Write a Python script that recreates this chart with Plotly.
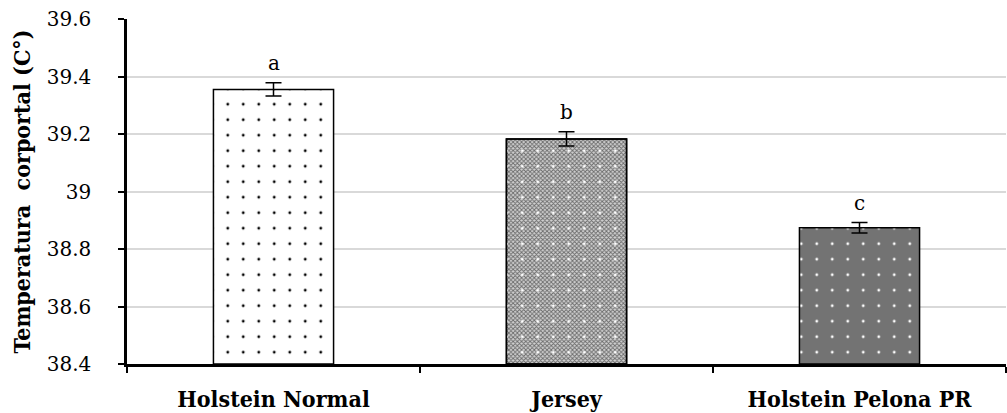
import plotly.graph_objects as go

categories = ["Holstein Normal", "Jersey", "Holstein Pelona PR"]
values = [39.355, 39.183, 38.874]
errors = [0.023, 0.025, 0.018]
letters = ["a", "b", "c"]
y_ticks = [38.4, 38.6, 38.8, 39.0, 39.2, 39.4, 39.6]
y_tick_labels = ["38.4", "38.6", "38.8", "39", "39.2", "39.4", "39.6"]

font_family = "DejaVu Serif"
bold_family = "DejaVu Serif Condensed, DejaVu Serif"
BASE = 38.4
BAR_W = 0.41

fig = go.Figure()

# Bar 1: white with black dots
fig.add_trace(go.Bar(
    x=[categories[0]], y=[values[0] - BASE], base=BASE, width=BAR_W,
    marker=dict(color="white", line=dict(color="black", width=1.5),
                pattern=dict(shape=".", fgcolor="black", bgcolor="white",
                             size=15.5, solidity=0.026, fillmode="replace")),
    error_y=dict(type="data", array=[errors[0]], color="black", thickness=1.5, width=8),
    showlegend=False,
))
# Bar 2: checker gray texture + white dots
fig.add_trace(go.Bar(
    x=[categories[1]], y=[values[1] - BASE], base=BASE, width=BAR_W,
    marker=dict(color="#d0d0d0", line=dict(color="black", width=1.5),
                pattern=dict(shape="x", fgcolor="#6a6a6a", bgcolor="#d0d0d0",
                             size=3, solidity=0.5, fillmode="replace")),
    showlegend=False,
))
fig.add_trace(go.Bar(
    x=[categories[1]], y=[values[1] - BASE], base=BASE, width=BAR_W,
    marker=dict(color="rgba(0,0,0,0)", line=dict(color="black", width=1.5),
                pattern=dict(shape=".", fgcolor="white", bgcolor="rgba(0,0,0,0)",
                             size=15.5, solidity=0.03, fillmode="replace")),
    error_y=dict(type="data", array=[errors[1]], color="black", thickness=1.5, width=8),
    showlegend=False,
))
# Bar 3: dark gray with white dots
fig.add_trace(go.Bar(
    x=[categories[2]], y=[values[2] - BASE], base=BASE, width=BAR_W,
    marker=dict(color="#737373", line=dict(color="black", width=1.5),
                pattern=dict(shape=".", fgcolor="white", bgcolor="#737373",
                             size=15.5, solidity=0.026, fillmode="replace")),
    error_y=dict(type="data", array=[errors[2]], color="black", thickness=1.5, width=8),
    showlegend=False,
))

for c, v, e, l in zip(categories, values, errors, letters):
    fig.add_annotation(x=c, y=v + e, text=l, showarrow=False, yshift=20,
                       font=dict(family=font_family, size=20, color="black"))

fig.update_layout(
    width=1007, height=413,
    margin=dict(l=127, r=1, t=19, b=49),
    paper_bgcolor="white", plot_bgcolor="white",
    barmode="overlay",
    font=dict(family=font_family, color="black"),
)
fig.update_xaxes(
    categoryorder="array", categoryarray=categories,
    automargin=False,
    showline=True, linecolor="black", linewidth=2.5,
    ticks="outside", tickson="boundaries", ticklen=6, tickwidth=2, tickcolor="black",
    tickfont=dict(family=bold_family, size=23, color="black", weight="bold"),
    ticklabelstandoff=13,
    showgrid=False,
)
fig.update_yaxes(
    range=[38.4, 39.6], tickvals=y_ticks, ticktext=y_tick_labels,
    automargin=False,
    ticklabeloverflow="allow",
    showline=True, linecolor="black", linewidth=2.5,
    ticks="outside", ticklen=6, tickwidth=2, tickcolor="black",
    tickfont=dict(family=font_family, size=20, color="black"),
    ticklabelstandoff=23,
    showgrid=True, gridcolor="#d9d9d9", gridwidth=1.5,
    zeroline=False,
    title=dict(text="Temperatura\u00a0\u00a0corportal (C°)", standoff=10,
               font=dict(family=bold_family, size=23, color="black", weight="bold")),
)

fig.write_html("out.html", config={"displayModeBar": False},
               post_script="document.body.style.margin='0';")
